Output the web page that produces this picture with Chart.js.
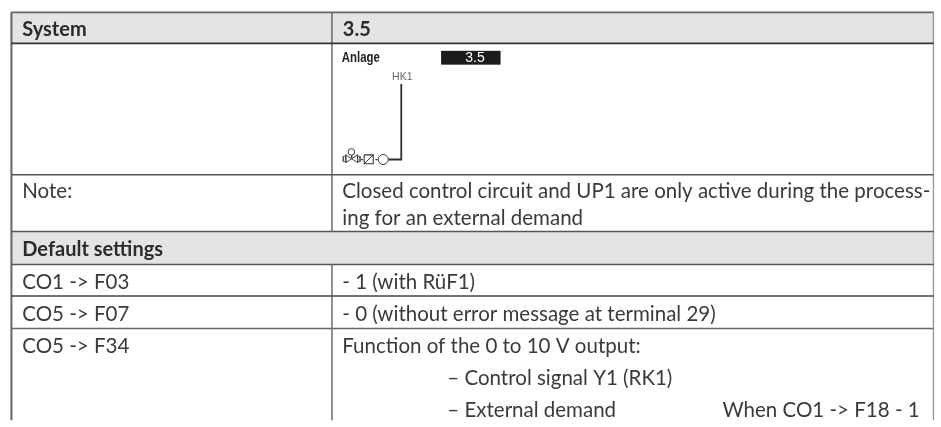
<!DOCTYPE html>
<html><head><meta charset="utf-8">
<style>html,body{margin:0;padding:0;background:#fff}canvas{display:block}</style>
<script src="https://cdn.jsdelivr.net/npm/chart.js@4/dist/chart.umd.min.js"></script>
</head><body><div style="width:941px;height:427px"><canvas id="c"></canvas></div>
<script>
// table content
const leftColumn = ["System","Note:","Default settings","CO1 -> F03","CO5 -> F07","CO5 -> F34"];
const rightColumn = ["3.5","Closed control circuit and UP1 are only active during the process-","ing for an external demand","- 1 (with RüF1)","- 0 (without error message at terminal 29)","Function of the 0 to 10 V output:","– Control signal Y1 (RK1)","– External demand","When CO1 -> F18 - 1"];
const schematicTexts = ["Anlage","3.5","HK1"];
const columnEdges = [5,330,940];
const rowEdges = [6,38,173.5,232,266,298.5,332];

function seg(pts,color,w){return {data:pts.map(p=>({x:p[0],y:p[1]})),borderColor:color,borderWidth:w,pointRadius:0,showLine:true,fill:false,tension:0};}
function dot(px,py,r,style,w){return {data:[{x:px,y:py}],showLine:false,pointStyle:style,pointRadius:r,pointBorderWidth:w,pointBorderColor:'#3c3c3c',pointBackgroundColor:'#fff'};}
const [L,M,R]=columnEdges,E=rowEdges;
const datasets=[];
const ruleColor=['#666','#333','#555','#555','#555','#444','#666'];
E.forEach((y,i)=>datasets.push(seg([[L,y],[R,y]],ruleColor[i],i<2?1.8:1.5)));
datasets.push(seg([[L,E[0]],[L,427]],'#666',2));
datasets.push(seg([[R,E[0]],[R,427]],'#999',1.5));
datasets.push(seg([[M,E[0]],[M,E[3]]],'#555',1.3));
datasets.push(seg([[M,E[4]],[M,427]],'#555',1.3));
// schematic pipe
datasets.push(seg([[400.3,80],[400.3,157.8],[387.5,157.8]],'#2e2e2e',1.8));
// connector dots
datasets.push(seg([[374,158],[376,158]],'#444',1.2));
datasets.push(seg([[359.5,158],[361.5,158]],'#444',1.2));
// mixer box
datasets.push(seg([[362.7,153],[371.9,153],[371.9,162.2],[362.7,162.2],[362.7,153]],'#333',1.1));
datasets.push(seg([[362.7,162.2],[371.9,153]],'#333',1));
// valve bow tie
datasets.push(seg([[344,153],[344,161],[356,153],[356,161],[344,153]],'#444',1));
datasets.push(seg([[350,153.5],[350,157]],'#444',1));
datasets.push(seg([[344,154.5],[341.5,154.5],[341.5,160],[344,160]],'#555',0.9));
datasets.push(seg([[356,154.5],[358.5,154.5],[358.5,160],[356,160]],'#555',0.9));
// valve drive and pump
datasets.push(dot(349.7,150,3.3,'circle',1));
datasets.push(dot(382,157.8,5,'circle',1));
datasets.push(dot(382,157.8,5.5,'rectRot',1));

const pagePlugin={id:'page',
 beforeDatasetsDraw(c){const {ctx,scales:{x,y}}=c;ctx.save();ctx.fillStyle='#e3e4e4';
  const fr=(a,b,d,e)=>ctx.fillRect(x.getPixelForValue(a),y.getPixelForValue(d),x.getPixelForValue(b)-x.getPixelForValue(a),y.getPixelForValue(e)-y.getPixelForValue(d));
  fr(L,R,E[0],E[1]);fr(L,R,E[3],E[4]);
  ctx.fillStyle='#1c1c1c';fr(440.7,501,45.7,60);ctx.restore();},
 afterDatasetsDraw(c){const {ctx,scales:{x,y}}=c;ctx.save();ctx.textBaseline='alphabetic';
  const t=(s,a,b,f,col,al,mw)=>{ctx.font=f;ctx.fillStyle=col;ctx.textAlign=al||'left';if(mw)ctx.fillText(s,x.getPixelForValue(a),y.getPixelForValue(b),mw);else ctx.fillText(s,x.getPixelForValue(a),y.getPixelForValue(b));};
  const body='400 20.5px Lato',bold='bold 20px Lato',c1='#3a3a3a';
  t(leftColumn[0],16,30.5,bold,'#2b2b2b');t(rightColumn[0],341,30.5,bold,'#2b2b2b');
  t(leftColumn[1],16,198,body,c1);
  t(rightColumn[1],340.5,198,body,c1,'left',588);t(rightColumn[2],340.5,225,body,c1);
  t(leftColumn[2],16,257,bold,'#2b2b2b');
  t(leftColumn[3],16,291,body,c1);t(rightColumn[3],340.5,291,body,c1);
  t(leftColumn[4],16,324,body,c1);t(rightColumn[4],340.5,324,body,c1);
  t(leftColumn[5],16,357,body,c1);t(rightColumn[5],340.5,357,body,c1);
  t(rightColumn[6],447,390.5,body,c1);t(rightColumn[7],447,423,body,c1);t(rightColumn[8],726,423,body,c1);
  t(schematicTexts[0],340,57,'bold 15px "Liberation Sans"','#222','left',38);
  t(schematicTexts[1],475,57,'14px "Liberation Sans"','#fff','center');
  t(schematicTexts[2],401.3,76,'10.5px "Liberation Sans"','#666','center');
  ctx.restore();}
};
new Chart(document.getElementById('c'),{type:'scatter',data:{datasets},plugins:[pagePlugin],options:{
 responsive:true,maintainAspectRatio:false,animation:false,layout:{padding:0},
 plugins:{legend:{display:false},tooltip:{enabled:false},title:{display:false}},
 scales:{x:{type:'linear',min:0,max:941,display:false},y:{type:'linear',min:0,max:427,reverse:true,display:false}}}});
</script></body></html>
